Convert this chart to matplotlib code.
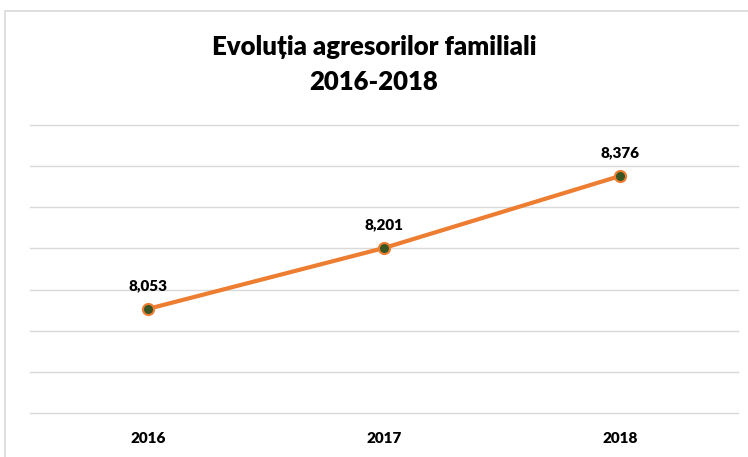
import matplotlib.pyplot as plt
from matplotlib.patches import Rectangle

plt.rcParams['font.family'] = ['Lato', 'DejaVu Sans']

years = ['2016', '2017', '2018']
agresori = [8053, 8201, 8376]

fig = plt.figure(figsize=(7.48, 4.57), dpi=100)
ax = fig.add_axes([0.0401, 0.0963, 0.9465, 0.6302])

# chart frame (Excel style, cut at right/bottom)
fig.patches.append(Rectangle((5 / 748, -0.1), 1.0, (457 - 11) / 457 + 0.1,
                             transform=fig.transFigure, fill=False,
                             edgecolor='#d9d9d9', linewidth=1.2))

x = range(len(years))
ax.plot(x, agresori, color='#ed7d31', linewidth=3, marker='o', markersize=8,
        markerfacecolor='#375623', markeredgecolor='#ed7d31', markeredgewidth=1.5,
        zorder=3)

for i, v in enumerate(agresori):
    ax.annotate(f'{v:,}', (i, v), xytext=(0, 12), textcoords='offset points',
                ha='center', va='bottom', fontsize=11, fontweight='heavy', color='#000000')

ax.set_xlim(-0.5, 2.5)
ax.set_ylim(7800, 8500)
ax.set_yticks(range(7800, 8501, 100))
ax.set_yticklabels([])
ax.set_xticks(list(x))
ax.set_xticklabels(years, fontsize=11, fontweight='heavy')
ax.tick_params(axis='both', length=0)
ax.tick_params(axis='x', pad=14)
ax.grid(axis='y', color='#d9d9d9', linewidth=1)
for line in ax.get_ygridlines():
    line.set_clip_on(False)
for s in ax.spines.values():
    s.set_visible(False)
ax.set_axisbelow(True)

fig.text(0.5, 1 - 47 / 457, 'Evoluția agresorilor familiali', ha='center', va='center',
         fontsize=18.5, fontweight='heavy')
fig.text(0.5, 1 - 82 / 457, '2016-2018', ha='center', va='center',
         fontsize=18.5, fontweight='heavy')

fig.savefig('out.png', dpi=100)
